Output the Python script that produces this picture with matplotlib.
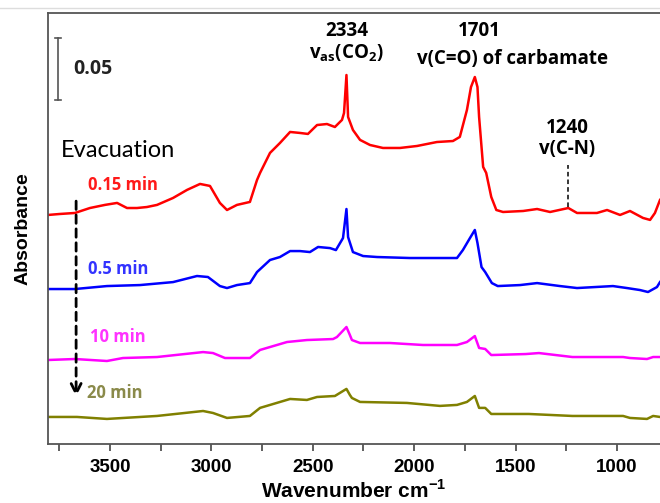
import matplotlib.pyplot as plt
import numpy as np
from matplotlib.lines import Line2D

# wavenumber (cm-1) and absorbance above each trace's own baseline
wn_015 = [3806, 3747, 3673, 3599, 3525, 3465, 3416, 3367, 3318, 3268, 3189, 3120,
          3056, 3007, 2958, 2923, 2874, 2810, 2775, 2760, 2711, 2662, 2612, 2563,
          2524, 2479, 2430, 2391, 2356, 2346, 2334, 2326, 2302, 2267, 2218, 2154,
          2070, 1986, 1888, 1809, 1775, 1740, 1720, 1701, 1688, 1680, 1660, 1645,
          1620, 1595, 1562, 1463, 1394, 1330, 1240, 1197, 1099, 1049, 985, 936,
          872, 837, 813, 788]
ab_015 = [0, 0.0008, 0.0016, 0.0056, 0.0081, 0.0097, 0.0056, 0.0056, 0.0064, 0.0081,
          0.0137, 0.0202, 0.0250, 0.0234, 0.0097, 0.0040, 0.0081, 0.0105, 0.0282,
          0.0339, 0.0500, 0.0580, 0.0669, 0.0661, 0.0653, 0.0725, 0.0733, 0.0709,
          0.0766, 0.0822, 0.1128, 0.0790, 0.0685, 0.0605, 0.0564, 0.0540, 0.0540,
          0.0556, 0.0588, 0.0596, 0.0629, 0.0846, 0.1031, 0.1112, 0.1031, 0.0790,
          0.0387, 0.0339, 0.0145, 0.0040, 0.0024, 0.0032, 0.0048, 0.0024, 0.0056,
          0.0016, 0.0016, 0.0040, 0.0000, 0.0032, -0.0024, -0.0040, 0.0016, 0.0121]

wn_05 = [3806, 3673, 3515, 3352, 3189, 3071, 3017, 2958, 2923, 2874, 2810, 2775,
         2711, 2662, 2612, 2563, 2514, 2474, 2415, 2386, 2351, 2334, 2326, 2302,
         2252, 2183, 2021, 1789, 1760, 1725, 1701, 1688, 1668, 1650, 1617, 1588,
         1478, 1394, 1281, 1197, 1020, 951, 887, 847, 803, 788]
ab_05 = [0, 0, 0.0024, 0.0032, 0.0056, 0.0105, 0.0097, 0.0024, 0.0008, 0.0032,
         0.0048, 0.0137, 0.0234, 0.0258, 0.0306, 0.0306, 0.0298, 0.0339, 0.0330,
         0.0314, 0.0411, 0.0645, 0.0419, 0.0298, 0.0266, 0.0258, 0.0250, 0.0250,
         0.0314, 0.0411, 0.0476, 0.0371, 0.0177, 0.0137, 0.0048, 0.0024, 0.0032,
         0.0048, 0.0024, 0.0008, 0.0024, 0.0008, -0.0008, -0.0024, 0.0016, 0.0056]

wn_10 = [3806, 3673, 3515, 3436, 3268, 3041, 2992, 2933, 2810, 2760, 2627, 2529,
         2400, 2381, 2334, 2317, 2307, 2267, 2119, 1957, 1789, 1740, 1701, 1680,
         1650, 1620, 1450, 1385, 1220, 970, 936, 852, 822, 788]
ab_10 = [-0.0008, 0, -0.0016, 0.0008, 0.0016, 0.0056, 0.0048, 0.0008, 0.0008,
         0.0073, 0.0137, 0.0153, 0.0161, 0.0177, 0.0258, 0.0193, 0.0153, 0.0129,
         0.0129, 0.0113, 0.0113, 0.0137, 0.0185, 0.0089, 0.0081, 0.0032, 0.0040,
         0.0048, 0.0016, 0.0016, 0.0008, 0, 0.0016, 0.0016]

wn_20 = [3806, 3663, 3515, 3268, 3041, 2992, 2923, 2810, 2760, 2612, 2529, 2479,
         2391, 2334, 2317, 2307, 2267, 2036, 1873, 1789, 1740, 1701, 1680, 1650,
         1620, 1435, 1220, 970, 936, 852, 822, 788]
ab_20 = [0, 0, -0.0016, 0.0008, 0.0048, 0.0032, -0.0008, 0.0008, 0.0073, 0.0145,
         0.0137, 0.0161, 0.0169, 0.0226, 0.0177, 0.0153, 0.0121, 0.0113, 0.0089,
         0.0097, 0.0121, 0.0169, 0.0073, 0.0073, 0.0024, 0.0024, 0.0008, 0.0008,
         -0.0008, -0.0016, 0.0008, 0]

times = ['0.15 min', '0.5 min', '10 min', '20 min']
offsets = [0.1846, 0.1249, 0.0685, 0.0218]
colors = ['#ff0000', '#0000ff', '#ff00ff', '#808000']
label_colors = ['#ff1a1a', '#3333ff', '#ff33ff', '#8a8a4a']
label_pos = [(3610, 0.2090), (3610, 0.1410), (3600, 0.0860), (3615, 0.0415)]

spectra = [(wn_015, ab_015), (wn_05, ab_05), (wn_10, ab_10), (wn_20, ab_20)]

txt = dict(fontweight='bold', family='Open Sans')

fig = plt.figure(figsize=(6.6, 5.03), dpi=100)
ax = fig.add_axes([0.0723, 0.1173, 0.9277, 0.8569])

for (w, a), off, c in zip(spectra, offsets, colors):
    ax.plot(w, np.array(a) + off, color=c, lw=1.8)

for t, (x, y), c in zip(times, label_pos, label_colors):
    ax.text(x, y, t, color=c, fontsize=12, va='center', ha='left', **txt)

ax.set_xlim(3807, 788)
ax.set_ylim(0, 0.3474)

# scale bar for 0.05 absorbance
ax.plot([3757, 3757], [0.2773, 0.3273], color='#555555', lw=1.2)
for yb in (0.2773, 0.3273):
    ax.plot([3772, 3742], [yb, yb], color='#555555', lw=1.2)
ax.text(3680, 0.3020, '0.05', fontsize=14, color='#222222', va='center', **txt)

ax.text(3742, 0.2364, 'Evacuation', fontsize=17, family='Lato', va='center')

# evacuation arrow
ax.annotate('', xy=(3667, 0.036), xytext=(3667, 0.198),
            arrowprops=dict(arrowstyle='->', color='black', lw=2,
                            linestyle=(0, (3, 2)), mutation_scale=18))

# band assignments
ax.text(2334, 0.3330, '2334', fontsize=13.5, ha='center', va='center', **txt)
ax.text(2334, 0.3150, r'v$_{\mathregular{as}}$(CO$_{\mathregular{2}}$)', fontsize=13.5,
        ha='center', va='center', **txt)
ax.text(1680, 0.3330, '1701', fontsize=13.5, ha='center', va='center', **txt)
ax.text(1515, 0.3100, 'v(C=O) of carbamate', fontsize=13.5, ha='center',
        va='center', **txt)
ax.text(1245, 0.2545, '1240', fontsize=13.5, ha='center', va='center', **txt)
ax.text(1245, 0.2380, 'v(C-N)', fontsize=13.5, ha='center', va='center', **txt)
ax.plot([1240, 1240], [0.1910, 0.2250], color='black', lw=1.1, ls=(0, (3, 2)))

ax.set_yticks([])
ax.set_xticks([3500, 3000, 2500, 2000, 1500, 1000])
ax.set_xticks([3750, 3250, 2750, 2250, 1750, 1250], minor=True)
ax.tick_params(axis='x', which='both', direction='out', length=5, width=1.2,
               color='#444444', labelsize=13.5, pad=6)
for lab in ax.get_xticklabels():
    lab.set_fontweight('bold')
    lab.set_family('Liberation Sans')

for s in ('left', 'top', 'bottom'):
    ax.spines[s].set_color('#555555')
    ax.spines[s].set_linewidth(1.3)
ax.spines['right'].set_visible(False)

ax.set_xlabel('Wavenumber cm$^{\\mathregular{-1}}$', fontsize=15, fontweight='bold',
              family='Liberation Sans', labelpad=2)
ax.set_ylabel('Absorbance', fontsize=14, fontweight='bold',
              family='Liberation Sans', labelpad=12)

fig.add_artist(Line2D([0, 1], [0.984, 0.984], color='#dddddd', lw=1))

fig.savefig('out.png', dpi=100)
